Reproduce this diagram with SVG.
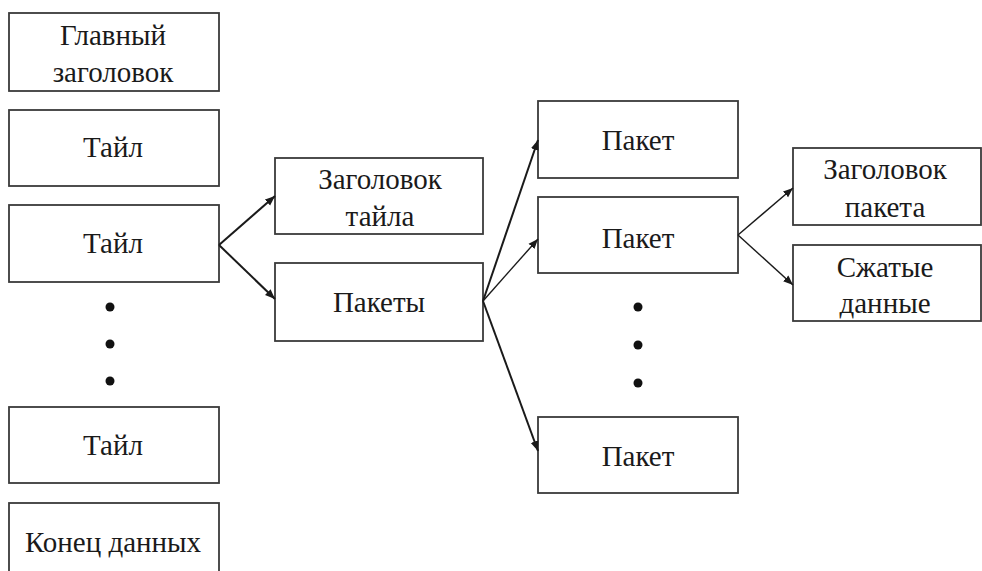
<svg xmlns="http://www.w3.org/2000/svg" width="982" height="571" viewBox="0 0 982 571">
<defs>
<style>
rect.b{fill:#fff;stroke:#3a3a3a;stroke-width:1.8}
text{font-size:29px;fill:#1a1a1a;text-anchor:middle}
.c line{stroke:#1a1a1a;stroke-width:2}
.c line.t{stroke-width:1.4}
circle{fill:#111}
</style>
<marker id="ah" viewBox="0 0 10 10" refX="10" refY="5" markerWidth="5" markerHeight="5" markerUnits="strokeWidth" orient="auto">
<path d="M0,1 L10,5 L0,9 z" fill="#1a1a1a"/>
</marker>
<marker id="ah2" viewBox="0 0 10 10" refX="10" refY="5" markerWidth="7" markerHeight="7" markerUnits="strokeWidth" orient="auto">
<path d="M0,1 L10,5 L0,9 z" fill="#1a1a1a"/>
</marker>
</defs>
<rect width="982" height="571" fill="#fff"/>
<g font-family="Liberation Serif, DejaVu Serif, serif">
<g id="main-header"><rect class="b" x="9" y="13" width="210" height="78"/><text x="113" y="45">Главный</text><text x="113" y="82">заголовок</text></g>
<g id="tile1"><rect class="b" x="9" y="110" width="210" height="76"/><text x="113" y="157">Тайл</text></g>
<g id="tile2"><rect class="b" x="9" y="205" width="210" height="77"/><text x="113" y="253">Тайл</text></g>
<g id="dots-left"><circle cx="110" cy="307" r="4.5"/><circle cx="110" cy="344" r="4.5"/><circle cx="110" cy="381" r="4.5"/></g>
<g id="tile3"><rect class="b" x="9" y="407" width="210" height="76"/><text x="113" y="455">Тайл</text></g>
<g id="end-data"><rect class="b" x="9" y="503" width="210" height="80"/><text x="113" y="552">Конец данных</text></g>
<g id="tile-header"><rect class="b" x="275" y="158" width="208" height="76"/><text x="380" y="189">Заголовок</text><text x="380" y="226">тайла</text></g>
<g id="packets"><rect class="b" x="275" y="263" width="208" height="78"/><text x="379" y="312">Пакеты</text></g>
<g id="packet1"><rect class="b" x="538" y="101" width="200" height="77"/><text x="638" y="150">Пакет</text></g>
<g id="packet2"><rect class="b" x="538" y="197" width="200" height="76"/><text x="638" y="248">Пакет</text></g>
<g id="dots-mid"><circle cx="638" cy="307" r="4.5"/><circle cx="638" cy="345" r="4.5"/><circle cx="638" cy="383" r="4.5"/></g>
<g id="packet3"><rect class="b" x="538" y="417" width="200" height="76"/><text x="638" y="466">Пакет</text></g>
<g id="packet-header"><rect class="b" x="793" y="148" width="188" height="77"/><text x="885" y="179">Заголовок</text><text x="885" y="217">пакета</text></g>
<g id="compressed"><rect class="b" x="793" y="245" width="188" height="76"/><text x="885" y="277">Сжатые</text><text x="885" y="313">данные</text></g>
</g>
<g class="c" id="connectors">
<line x1="219" y1="245" x2="275" y2="196" marker-end="url(#ah)"/>
<line x1="219" y1="245" x2="275" y2="299" marker-end="url(#ah)"/>
<line x1="483" y1="301" x2="538" y2="140" marker-end="url(#ah)"/>
<line class="t" x1="483" y1="301" x2="538" y2="239" marker-end="url(#ah2)"/>
<line x1="483" y1="301" x2="538" y2="451" marker-end="url(#ah)"/>
<line class="t" x1="738" y1="235" x2="793" y2="188" marker-end="url(#ah2)"/>
<line class="t" x1="738" y1="235" x2="793" y2="285" marker-end="url(#ah2)"/>
</g>
</svg>
